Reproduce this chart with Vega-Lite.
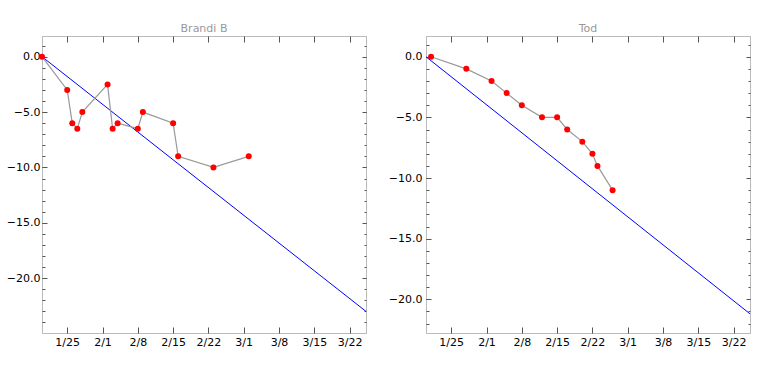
{
  "$schema": "https://vega.github.io/schema/vega-lite/v6.json",
  "padding": {"left": 5, "top": 22, "right": 5, "bottom": 5},
  "spacing": 18,
  "config": {
    "view": {"stroke": "#777777", "strokeDash": [1, 1], "strokeWidth": 1},
    "font": "DejaVu Sans",
    "axis": {"labelFont": "DejaVu Sans", "labelFontSize": 11, "labelColor": "#000000", "domain": false, "grid": false, "tickColor": "#555555"},
    "title": {"fontSize": 11, "font": "DejaVu Sans", "color": "#999999", "fontWeight": "normal", "offset": 2}
  },
  "datasets": {
    "left_pts": [
      {"date": "2023/01/20", "value": 0},
      {"date": "2023/01/25", "value": -3},
      {"date": "2023/01/26", "value": -6},
      {"date": "2023/01/27", "value": -6.5},
      {"date": "2023/01/28", "value": -5},
      {"date": "2023/02/02", "value": -2.5},
      {"date": "2023/02/03", "value": -6.5},
      {"date": "2023/02/04", "value": -6},
      {"date": "2023/02/08", "value": -6.5},
      {"date": "2023/02/09", "value": -5},
      {"date": "2023/02/15", "value": -6},
      {"date": "2023/02/16", "value": -9},
      {"date": "2023/02/23", "value": -10},
      {"date": "2023/03/02", "value": -9}
    ],
    "left_goal": [
      {"date": "2023/01/20 00:00", "value": 0},
      {"date": "2023/03/25 06:00", "value": -23}
    ],
    "right_pts": [
      {"date": "2023/01/21", "value": 0},
      {"date": "2023/01/28", "value": -1},
      {"date": "2023/02/02", "value": -2},
      {"date": "2023/02/05", "value": -3},
      {"date": "2023/02/08", "value": -4},
      {"date": "2023/02/12", "value": -5},
      {"date": "2023/02/15", "value": -5},
      {"date": "2023/02/17", "value": -6},
      {"date": "2023/02/20", "value": -7},
      {"date": "2023/02/22", "value": -8},
      {"date": "2023/02/23", "value": -9},
      {"date": "2023/02/26", "value": -11}
    ],
    "right_goal": [
      {"date": "2023/01/20 00:00", "value": 0},
      {"date": "2023/03/25 06:00", "value": -21.2}
    ]
  },
  "hconcat": [
    {
      "title": "Brandi B",
      "width": 324,
      "height": 297,
      "resolve": {"axis": {"x": "independent", "y": "independent"}},
      "layer": [
        {
          "data": {"name": "left_goal"},
          "mark": {"type": "line", "color": "#0000ff", "strokeWidth": 1},
          "encoding": {
            "x": {"field": "date", "type": "temporal",
              "scale": {"domain": [{"year": 2023, "month": 1, "date": 20}, {"year": 2023, "month": 3, "date": 25, "hours": 6}]},
              "axis": {"orient": "bottom", "title": null, "format": "%-m/%-d", "tickSize": -6, "labelPadding": 9,
                "values": [{"year": 2023, "month": 1, "date": 25}, {"year": 2023, "month": 2, "date": 1}, {"year": 2023, "month": 2, "date": 8}, {"year": 2023, "month": 2, "date": 15}, {"year": 2023, "month": 2, "date": 22}, {"year": 2023, "month": 3, "date": 1}, {"year": 2023, "month": 3, "date": 8}, {"year": 2023, "month": 3, "date": 15}, {"year": 2023, "month": 3, "date": 22}]}},
            "y": {"field": "value", "type": "quantitative",
              "scale": {"domain": [-24.95, 1.87], "nice": false, "zero": false},
              "axis": {"orient": "left", "title": null, "format": ".1f", "values": [0, -5, -10, -15, -20], "tickSize": -5, "labelPadding": 7, "minExtent": 36, "maxExtent": 36}}
          }
        },
        {
          "data": {"name": "left_pts"},
          "mark": {"type": "line", "color": "#999999", "strokeWidth": 1.2},
          "encoding": {
            "x": {"field": "date", "type": "temporal",
              "axis": {"orient": "top", "title": null, "labels": false, "tickSize": -6, "minExtent": 0, "maxExtent": 0,
                "values": [{"year": 2023, "month": 1, "date": 25}, {"year": 2023, "month": 2, "date": 1}, {"year": 2023, "month": 2, "date": 8}, {"year": 2023, "month": 2, "date": 15}, {"year": 2023, "month": 2, "date": 22}, {"year": 2023, "month": 3, "date": 1}, {"year": 2023, "month": 3, "date": 8}, {"year": 2023, "month": 3, "date": 15}, {"year": 2023, "month": 3, "date": 22}]}},
            "y": {"field": "value", "type": "quantitative",
              "axis": {"orient": "right", "title": null, "labels": false, "values": [0, -5, -10, -15, -20], "tickSize": -4, "minExtent": 0, "maxExtent": 0}}
          }
        },
        {
          "data": {"name": "left_pts"},
          "mark": {"type": "point", "filled": true, "color": "#ff0000", "size": 36, "opacity": 1},
          "encoding": {
            "x": {"field": "date", "type": "temporal", "axis": null},
            "y": {"field": "value", "type": "quantitative",
              "axis": {"orient": "left", "title": null, "labels": false, "values": [1, 0, -1, -2, -3, -4, -5, -6, -7, -8, -9, -10, -11, -12, -13, -14, -15, -16, -17, -18, -19, -20, -21, -22, -23, -24], "tickSize": -3, "minExtent": 36, "maxExtent": 36}}
          }
        },
        {
          "data": {"name": "left_goal"},
          "mark": {"type": "line", "color": "#0000ff", "strokeWidth": 1, "strokeOpacity": 0},
          "encoding": {
            "x": {"field": "date", "type": "temporal", "axis": null},
            "y": {"field": "value", "type": "quantitative",
              "axis": {"orient": "right", "title": null, "labels": false, "values": [1, 0, -1, -2, -3, -4, -5, -6, -7, -8, -9, -10, -11, -12, -13, -14, -15, -16, -17, -18, -19, -20, -21, -22, -23, -24], "tickSize": -2, "minExtent": 0, "maxExtent": 0}}
          }
        }
      ]
    },
    {
      "title": "Tod",
      "width": 324,
      "height": 297,
      "resolve": {"axis": {"x": "independent", "y": "independent"}},
      "layer": [
        {
          "data": {"name": "right_goal"},
          "mark": {"type": "line", "color": "#0000ff", "strokeWidth": 1},
          "encoding": {
            "x": {"field": "date", "type": "temporal",
              "scale": {"domain": [{"year": 2023, "month": 1, "date": 20}, {"year": 2023, "month": 3, "date": 25, "hours": 6}]},
              "axis": {"orient": "bottom", "title": null, "format": "%-m/%-d", "tickSize": -6, "labelPadding": 9,
                "values": [{"year": 2023, "month": 1, "date": 25}, {"year": 2023, "month": 2, "date": 1}, {"year": 2023, "month": 2, "date": 8}, {"year": 2023, "month": 2, "date": 15}, {"year": 2023, "month": 2, "date": 22}, {"year": 2023, "month": 3, "date": 1}, {"year": 2023, "month": 3, "date": 8}, {"year": 2023, "month": 3, "date": 15}, {"year": 2023, "month": 3, "date": 22}]}},
            "y": {"field": "value", "type": "quantitative",
              "scale": {"domain": [-22.78, 1.71], "nice": false, "zero": false},
              "axis": {"orient": "left", "title": null, "format": ".1f", "values": [0, -5, -10, -15, -20], "tickSize": -5, "labelPadding": 9, "minExtent": 36, "maxExtent": 36}}
          }
        },
        {
          "data": {"name": "right_pts"},
          "mark": {"type": "line", "color": "#999999", "strokeWidth": 1.2},
          "encoding": {
            "x": {"field": "date", "type": "temporal",
              "axis": {"orient": "top", "title": null, "labels": false, "tickSize": -6, "minExtent": 0, "maxExtent": 0,
                "values": [{"year": 2023, "month": 1, "date": 25}, {"year": 2023, "month": 2, "date": 1}, {"year": 2023, "month": 2, "date": 8}, {"year": 2023, "month": 2, "date": 15}, {"year": 2023, "month": 2, "date": 22}, {"year": 2023, "month": 3, "date": 1}, {"year": 2023, "month": 3, "date": 8}, {"year": 2023, "month": 3, "date": 15}, {"year": 2023, "month": 3, "date": 22}]}},
            "y": {"field": "value", "type": "quantitative",
              "axis": {"orient": "right", "title": null, "labels": false, "values": [0, -5, -10, -15, -20], "tickSize": -4, "minExtent": 0, "maxExtent": 0}}
          }
        },
        {
          "data": {"name": "right_pts"},
          "mark": {"type": "point", "filled": true, "color": "#ff0000", "size": 36, "opacity": 1},
          "encoding": {
            "x": {"field": "date", "type": "temporal", "axis": null},
            "y": {"field": "value", "type": "quantitative",
              "axis": {"orient": "left", "title": null, "labels": false, "values": [1, 0, -1, -2, -3, -4, -5, -6, -7, -8, -9, -10, -11, -12, -13, -14, -15, -16, -17, -18, -19, -20, -21, -22], "tickSize": -3, "minExtent": 36, "maxExtent": 36}}
          }
        },
        {
          "data": {"name": "right_goal"},
          "mark": {"type": "line", "color": "#0000ff", "strokeWidth": 1, "strokeOpacity": 0},
          "encoding": {
            "x": {"field": "date", "type": "temporal", "axis": null},
            "y": {"field": "value", "type": "quantitative",
              "axis": {"orient": "right", "title": null, "labels": false, "values": [1, 0, -1, -2, -3, -4, -5, -6, -7, -8, -9, -10, -11, -12, -13, -14, -15, -16, -17, -18, -19, -20, -21, -22], "tickSize": -2, "minExtent": 0, "maxExtent": 0}}
          }
        }
      ]
    }
  ]
}
